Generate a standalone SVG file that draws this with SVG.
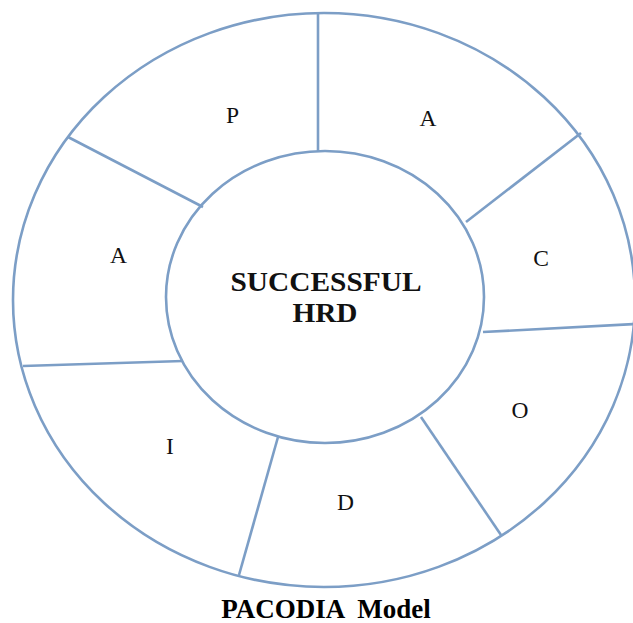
<svg xmlns="http://www.w3.org/2000/svg" width="633" height="623" viewBox="0 0 633 623">
<style>
.ring{fill:none;stroke:#7c9ec6;stroke-width:2.6}
.sp{stroke:#7c9ec6;stroke-width:2.6;fill:none}
.lt{font-family:"Liberation Serif","Times New Roman",serif;font-size:23.5px;fill:#111;text-anchor:middle}
.ct{font-family:"Liberation Serif","Times New Roman",serif;font-size:28px;font-weight:bold;fill:#111;text-anchor:middle}
.cap{font-family:"Liberation Serif","Times New Roman",serif;font-size:27px;font-weight:bold;fill:#000;text-anchor:middle}
</style>
<rect width="633" height="623" fill="#fff"/>
<g id="rings">
<ellipse class="ring" cx="324" cy="300" rx="311" ry="287"/>
</g>
<g id="connectors">
<line class="sp" x1="318" y1="13" x2="318" y2="152"/>
<line class="sp" x1="68" y1="137" x2="203" y2="207"/>
<line class="sp" x1="581" y1="133" x2="466" y2="222"/>
<line class="sp" x1="483" y1="332" x2="635" y2="324"/>
<line class="sp" x1="421" y1="417" x2="501" y2="535"/>
<line class="sp" x1="278" y1="437" x2="239" y2="575"/>
<line class="sp" x1="183" y1="361" x2="23" y2="366"/>
</g>
<g id="center">
<ellipse class="ring" cx="325" cy="297" rx="159" ry="146" fill="#fff"/>
<text class="ct" x="326" y="291" textLength="191" lengthAdjust="spacingAndGlyphs">SUCCESSFUL</text>
<text class="ct" x="325" y="322" textLength="65" lengthAdjust="spacingAndGlyphs">HRD</text>
</g>
<g id="seg-P"><text class="lt" x="232.5" y="123">P</text></g>
<g id="seg-A1"><text class="lt" x="428" y="126">A</text></g>
<g id="seg-C"><text class="lt" x="541" y="266">C</text></g>
<g id="seg-O"><text class="lt" x="520" y="418">O</text></g>
<g id="seg-D"><text class="lt" x="345.5" y="510">D</text></g>
<g id="seg-I"><text class="lt" x="170" y="454">I</text></g>
<g id="seg-A2"><text class="lt" x="118.5" y="263">A</text></g>
<g id="caption"><text class="cap" x="326" y="618" xml:space="preserve">PACODIA  Model</text></g>
</svg>
